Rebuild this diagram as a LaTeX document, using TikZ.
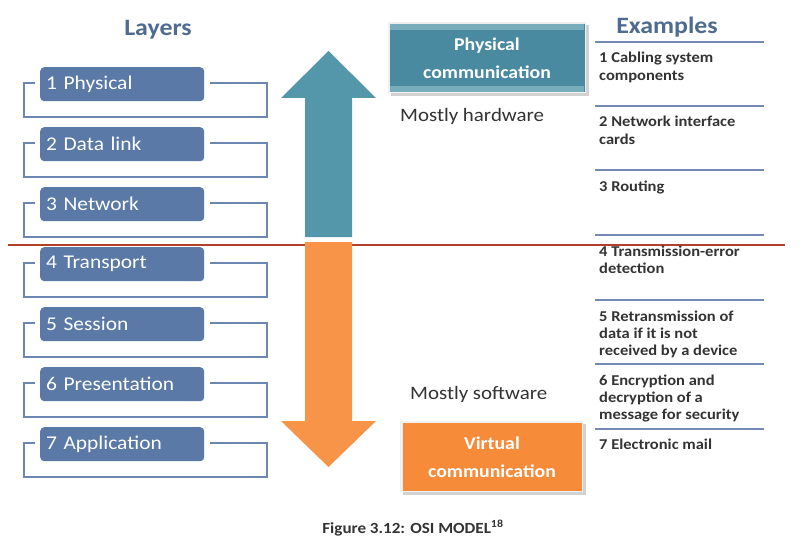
\documentclass[tikz,border=0pt]{standalone}
\usepackage{fontspec}
\setmainfont{Carlito}[FakeStretch=1.1]
\definecolor{layerfill}{HTML}{5B79A6}
\definecolor{bracketc}{HTML}{6B86B0}
\definecolor{titlec}{HTML}{4F6B8F}
\definecolor{tealc}{HTML}{5597AA}
\definecolor{tealbox}{HTML}{4A8AA0}
\definecolor{orangec}{HTML}{F79447}
\definecolor{orangebox}{HTML}{F68B3A}
\definecolor{exline}{HTML}{7489B5}
\definecolor{redline}{HTML}{B5402A}
\definecolor{textc}{HTML}{333333}
\tikzset{
  layerbox/.style={fill=layerfill, rounded corners=4pt, minimum width=164pt, minimum height=34pt,
    text=white, font=\fontsize{19.5}{21}\selectfont, anchor=north west, inner sep=0pt,
    text width=156pt, align=left},
  bracket/.style={draw=bracketc, line width=2.6pt},
  extext/.style={anchor=base west, align=left, inner sep=0pt, text=textc,
    font=\bfseries\fontsize{15}{17.2}\selectfont},
  exrule/.style={draw=exline, line width=2.6pt},
  titletext/.style={text=titlec, font=\bfseries\fontsize{23.5}{26}\selectfont, inner sep=0pt},
  commbox/.style={minimum width=195pt, minimum height=68pt, text=white, align=center,
    font=\bfseries\fontsize{18}{28}\selectfont, inner sep=0pt},
  mostly/.style={anchor=base west, inner sep=0pt, text=textc, font=\fontsize{19}{22}\selectfont},
}
\begin{document}
\begin{tikzpicture}[x=1pt,y=-1pt]
\useasboundingbox (0,0) rectangle (810,548);
\fill[white] (0,0) rectangle (810,548);

% titles
\node[titletext] (layers) at (158,30) {Layers};
\node[titletext] (examples) at (667,27) {Examples};

% layer brackets and boxes
\foreach \i/\t in {1/1 Physical,2/2 Data link,3/3 Network,4/4 Transport,5/5 Session,6/6 Presentation,7/7 Application}{
  \pgfmathsetmacro{\yt}{67+60*(\i-1)}
  \draw[bracket] (35,\yt+16) -- (24,\yt+16) -- (24,\yt+50) -- (267,\yt+50) -- (267,\yt+16) -- (210,\yt+16);
  \node[layerbox] (L\i) at (40,\yt) {\hspace*{2pt}\t};
}

% red divider
\draw[redline, line width=1.2pt] (8,245) -- (785,245);

% arrows
\fill[tealc] (305,237) -- (305,98) -- (281,98) -- (328.5,51) -- (376,98) -- (352,98) -- (352,237) -- cycle;
\fill[orangec] (305,242) -- (305,421) -- (281,421) -- (328.5,467) -- (376,421) -- (352,421) -- (352,242) -- cycle;

% communication boxes
\fill[gray!35] (391,25) rectangle (589,96);
\fill[gray!12] (388,22) rectangle (586,93);
\node[commbox, fill=tealbox] (phys) at (487,58) {Physical\\communication};
\fill[tealc!80!white] (390,24) rectangle (584,30);
\fill[tealc!80!white] (390,86) rectangle (584,92);
\fill[gray!35] (403,424) rectangle (586,495);
\fill[gray!12] (400,421) rectangle (583,492);
\node[commbox, fill=orangebox, minimum width=179pt] (virt) at (492,457) {Virtual\\communication};

\node[mostly] (hw) at (400,122) {Mostly hardware};
\node[mostly] (sw) at (410,399) {Mostly software};

% examples
\foreach \y in {42,106,170,235,300,364,429}{
  \draw[exrule] (595,\y) -- (764,\y);
}
\node[extext] (e1) at (599,80.2) {1 Cabling system\\components};
\node[extext] (e2) at (599,144.2) {2 Network interface\\cards};
\node[extext] (e3) at (599,191) {3 Routing};
\node[extext] (e4) at (599,273.2) {4 Transmission-error\\detection};
\node[extext] (e5) at (599,355.4) {5 Retransmission of\\data if it is not\\received by a device};
\node[extext] (e6) at (599,419.4) {6 Encryption and\\decryption of a\\message for security};
\node[extext] (e7) at (599,449) {7 Electronic mail};

% caption
\node[inner sep=0pt, text=textc, font=\bfseries\fontsize{15.5}{18}\selectfont] (cap) at (413,528) {Figure 3.12: OSI MODEL\textsuperscript{18}};
\end{tikzpicture}
\end{document}
